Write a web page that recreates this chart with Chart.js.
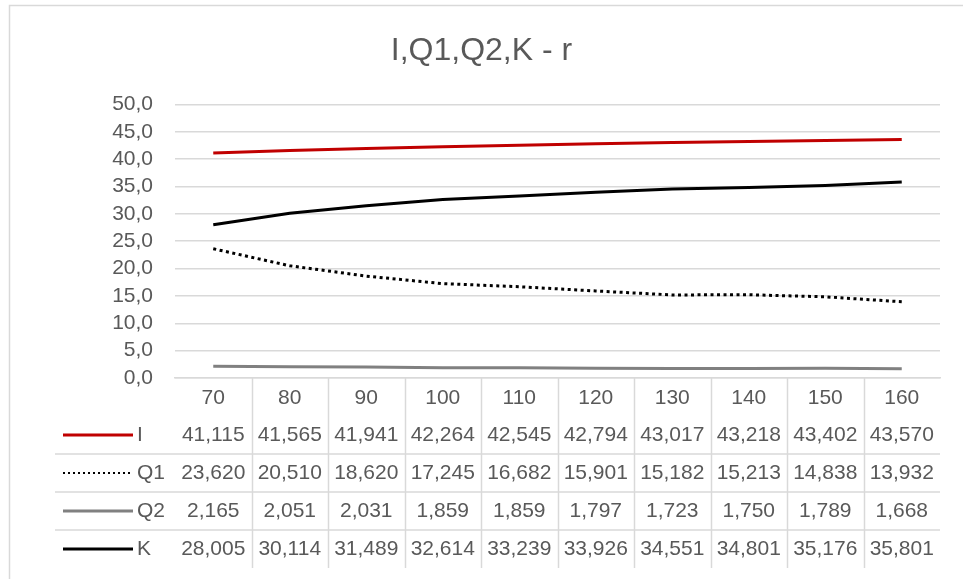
<!DOCTYPE html>
<html>
<head>
<meta charset="utf-8">
<script src="https://cdn.jsdelivr.net/npm/chart.js@4"></script>
<style>
html,body{margin:0;padding:0;background:#fff;}
#wrap{position:relative;width:963px;height:579px;}
</style>
</head>
<body>
<div id="wrap"><canvas id="c" width="963" height="579"></canvas></div>
<script>
const chartTitle = "I,Q1,Q2,K - r";
const categories = ["70","80","90","100","110","120","130","140","150","160"];
const seriesNames = ["I","Q1","Q2","K"];
const valuesI  = [41.115,41.565,41.941,42.264,42.545,42.794,43.017,43.218,43.402,43.570];
const valuesQ1 = [23.620,20.510,18.620,17.245,16.682,15.901,15.182,15.213,14.838,13.932];
const valuesQ2 = [2.165,2.051,2.031,1.859,1.859,1.797,1.723,1.750,1.789,1.668];
const valuesK  = [28.005,30.114,31.489,32.614,33.239,33.926,34.551,34.801,35.176,35.801];
const yTicks = [0,5,10,15,20,25,30,35,40,45,50];

const FONT = "'Liberation Sans', Arial, sans-serif";
const TXT = "#595959";
const GRID = "#d9d9d9";
const ROW_H = 38;
const TABLE_BOTTOM = 568;

const fmt3 = v => v.toFixed(3).replace('.', ',');
const fmt1 = v => v.toFixed(1).replace('.', ',');

const seriesStyles = [
  {color:"#C00000", dash:[]},
  {color:"#000000", dash:[3,3.5]},
  {color:"#808080", dash:[]},
  {color:"#000000", dash:[]}
];
const seriesValues = [valuesI, valuesQ1, valuesQ2, valuesK];

const datasets = seriesNames.map((n,i)=>({
  label:n,
  data:seriesValues[i],
  borderColor:seriesStyles[i].color,
  backgroundColor:seriesStyles[i].color,
  borderWidth:3,
  borderDash:seriesStyles[i].dash,
  pointRadius:0,
  pointHoverRadius:0,
  tension:0,
  fill:false,
  yAxisID:'y'
}));

const borderPlugin = {
  id:'outerBorder',
  beforeDraw(chart){
    const ctx = chart.ctx;
    ctx.save();
    ctx.fillStyle = '#fff';
    ctx.fillRect(0,0,chart.width,chart.height);
    ctx.strokeStyle = GRID;
    ctx.lineWidth = 1.5;
    ctx.strokeRect(9.5,5.5,chart.width+20,chart.height+20);
    ctx.restore();
  }
};

const tablePlugin = {
  id:'dataTable',
  afterDraw(chart){
    const ctx = chart.ctx;
    const x = chart.scales.x;
    const area = chart.chartArea;
    const top = area.bottom;
    ctx.save();
    ctx.strokeStyle = GRID;
    ctx.lineWidth = 1.5;
    for(let i=0;i<categories.length-1;i++){
      const xs = Math.round((x.getPixelForValue(i)+x.getPixelForValue(i+1))/2)+0.5;
      ctx.beginPath();
      ctx.moveTo(xs, top);
      ctx.lineTo(xs, TABLE_BOTTOM);
      ctx.stroke();
    }
    for(let r=1;r<seriesNames.length;r++){
      const ys = top + ROW_H*(r+1);
      ctx.beginPath();
      ctx.moveTo(55, ys);
      ctx.lineTo(area.right, ys);
      ctx.stroke();
    }
    ctx.font = "21px " + FONT;
    ctx.textBaseline = 'middle';
    seriesNames.forEach((name, r)=>{
      const yc = top + ROW_H*(r+1) + ROW_H/2;
      const st = seriesStyles[r];
      ctx.save();
      ctx.strokeStyle = st.color;
      ctx.lineWidth = r===1 ? 2 : 3;
      ctx.setLineDash(r===1 ? [2,3] : []);
      ctx.beginPath();
      ctx.moveTo(63, yc);
      ctx.lineTo(133, yc);
      ctx.stroke();
      ctx.restore();
      ctx.fillStyle = TXT;
      ctx.textAlign = 'left';
      ctx.fillText(name, 137, yc);
      ctx.textAlign = 'center';
      seriesValues[r].forEach((v,i)=>{
        ctx.fillText(fmt3(v), x.getPixelForValue(i), yc);
      });
    });
    ctx.restore();
  }
};

new Chart(document.getElementById('c'), {
  type:'line',
  data:{labels:categories, datasets:datasets},
  plugins:[borderPlugin, tablePlugin],
  options:{
    responsive:false,
    animation:false,
    layout:{padding:{left:0,right:0,top:0,bottom:0}},
    plugins:{
      legend:{display:false},
      tooltip:{enabled:false},
      title:{
        display:true,
        text:chartTitle,
        color:TXT,
        font:{family:FONT,size:32,weight:'normal',lineHeight:1.2},
        padding:{top:32,bottom:34}
      }
    },
    scales:{
      x:{
        offset:true,
        grid:{display:false, drawTicks:false},
        border:{display:true,color:GRID,width:1.5},
        ticks:{color:TXT,font:{family:FONT,size:21},padding:8,maxRotation:0,autoSkip:false},
        afterFit(scale){ scale.height = 579 - 378; }
      },
      y:{
        min:0,max:50,
        afterBuildTicks(scale){ scale.ticks = yTicks.map(v=>({value:v})); },
        grid:{color:GRID,lineWidth:1.5,drawTicks:false},
        border:{display:false},
        ticks:{color:TXT,font:{family:FONT,size:21},padding:22,autoSkip:false,callback:v=>fmt1(v)},
        afterFit(scale){ scale.width = 175; }
      },
      y2:{
        position:'right',
        display:true,
        min:0,max:50,
        grid:{display:false,drawTicks:false},
        border:{display:false},
        ticks:{display:false},
        afterFit(scale){ scale.width = 23; }
      }
    }
  }
});
</script>
</body>
</html>
